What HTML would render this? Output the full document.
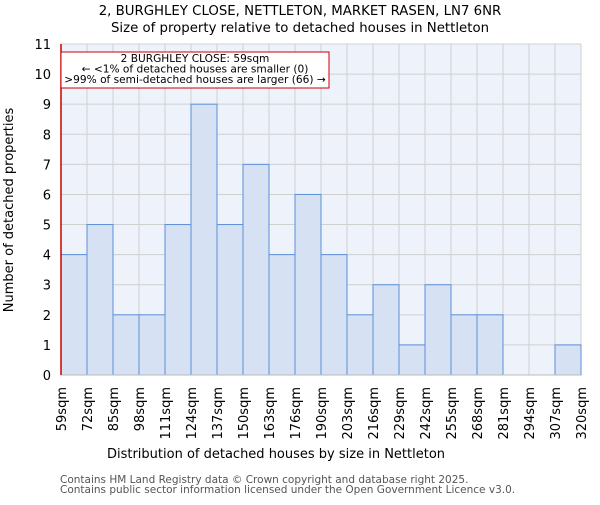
<!DOCTYPE html>
<html><head><meta charset="utf-8"><style>body{margin:0;background:#fff}svg{font-family:"DejaVu Sans","Liberation Sans",sans-serif}</style></head>
<body>
<svg width="600" height="500" xmlns="http://www.w3.org/2000/svg">
<text x="300" y="15" text-anchor="middle" font-size="13.3">2, BURGHLEY CLOSE, NETTLETON, MARKET RASEN, LN7 6NR</text>
<text x="300" y="32" text-anchor="middle" font-size="13.3">Size of property relative to detached houses in Nettleton</text>
<g id="plot"></g>
<text x="276" y="458" text-anchor="middle" font-size="13">Distribution of detached houses by size in Nettleton</text>
<text transform="translate(13,210) rotate(-90)" text-anchor="middle" font-size="13">Number of detached properties</text>
<text x="60" y="483" font-size="10.5" fill="#555">Contains HM Land Registry data © Crown copyright and database right 2025.</text>
<text x="60" y="493" font-size="10.5" fill="#555">Contains public sector information licensed under the Open Government Licence v3.0.</text>
</svg>
<script>
const categories=["59sqm","72sqm","85sqm","98sqm","111sqm","124sqm","137sqm","150sqm","163sqm","176sqm","190sqm","203sqm","216sqm","229sqm","242sqm","255sqm","268sqm","281sqm","294sqm","307sqm","320sqm"];
const values=[4,5,2,2,5,9,5,7,4,6,4,2,3,1,3,2,2,0,0,1];
const yTicks=[0,1,2,3,4,5,6,7,8,9,10,11];
const NS="http://www.w3.org/2000/svg";
const g=document.getElementById('plot');
const X0=61,X1=581,Y0=375,Y1=44,YMAX=11;
const bw=(X1-X0)/values.length;
const xs=i=>X0+i*bw, ys=v=>Y0-(v/YMAX)*(Y0-Y1);
function mk(t,a){const e=document.createElementNS(NS,t);for(const k in a)e.setAttribute(k,a[k]);g.appendChild(e);return e;}
let bg=mk('rect',{x:X0,y:Y1,width:X1-X0,height:Y0-Y1,fill:'#eef2fa'});


yTicks.forEach(v=>{const l=mk('line',{x1:X0,x2:X1,y1:ys(v),y2:ys(v),stroke:'#d0d0d0'});


const t=mk('text',{x:X0-10,y:ys(v)+5,'text-anchor':'end','font-size':13});t.textContent=v;

});
categories.forEach((c,i)=>{const l=mk('line',{x1:xs(i),x2:xs(i),y1:Y1,y2:Y0,stroke:'#d0d0d0'});


const t=mk('text',{transform:`translate(${xs(i)+5},${Y0+12}) rotate(-90)`,'text-anchor':'end','font-size':13});t.textContent=c;

});
values.forEach((v,i)=>{if(v<=0)return;const r=mk('rect',{x:xs(i),y:ys(v),width:bw,height:Y0-ys(v),fill:'#d6e1f4',stroke:'#5b8fd9','stroke-width':1});

});
let ax=mk('line',{x1:X0,x2:X1,y1:Y0,y2:Y0,stroke:'#bbb'});


let pl=mk('line',{x1:X0,x2:X0,y1:Y1,y2:Y0,stroke:'#c00','stroke-width':1.5});


let box=mk('rect',{x:X0,y:52,width:268,height:36,fill:'#fff',stroke:'#c00'});


["2 BURGHLEY CLOSE: 59sqm","← <1% of detached houses are smaller (0)",">99% of semi-detached houses are larger (66) →"].forEach((s,k)=>{const t=mk('text',{x:X0+134,y:62+k*10.5,'text-anchor':'middle','font-size':10.6});t.textContent=s;

});
</script>
</body></html>
